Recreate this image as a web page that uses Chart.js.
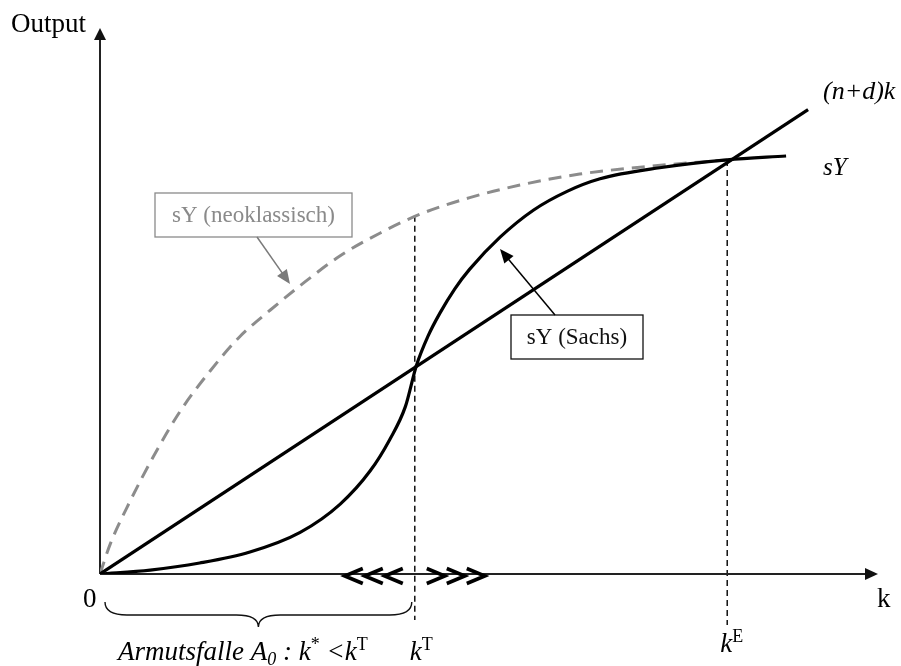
<!DOCTYPE html>
<html>
<head>
<meta charset="utf-8">
<script src="https://cdn.jsdelivr.net/npm/chart.js@4"></script>
<style>
  html, body { margin: 0; padding: 0; background: #fff; }
  #wrap { width: 901px; height: 666px; position: relative; }
</style>
</head>
<body>
<div id="wrap"><canvas id="chart"></canvas></div>
<script>
'use strict';

// ── Data (k on x, output on y) ─────────────────────────────────────────────

// (n+d)k – straight line
const LINE_K = [0, 9.02];
const LINE_Y = [0, 5.91];

// sY (Sachs) – S-shaped curve
const SACHS_K = [0, 0.64, 1.27, 1.91, 2.55, 3.06, 3.44, 3.69, 3.89, 4.03, 4.18, 4.33, 4.52, 4.71, 5.10, 5.52, 5.95, 6.37, 7.13, 7.99, 8.74];
const SACHS_Y = [0, 0.05, 0.14, 0.28, 0.53, 0.89, 1.31, 1.71, 2.13, 2.65, 3.03, 3.32, 3.63, 3.88, 4.29, 4.63, 4.87, 5.03, 5.17, 5.27, 5.32];

// sY (neoklassisch) – dashed concave curve
const NEO_K = [0, 0.13, 0.38, 0.70, 1.02, 1.40, 1.78, 2.17, 2.55, 3.06, 3.57, 4.08, 4.71, 5.35, 6.11, 7.01, 7.99];
const NEO_Y = [0, 0.38, 0.92, 1.53, 2.07, 2.58, 3.02, 3.36, 3.67, 4.05, 4.34, 4.58, 4.79, 4.95, 5.09, 5.19, 5.27];

// threshold / equilibrium capital
const K_T = 4.01, K_T_Y = 4.56;
const K_E = 7.99, K_E_Y = 5.27;

const SERIF = '"Liberation Serif", "Times New Roman", serif';

const pts = (xs, ys) => xs.map((x, i) => ({ x, y: ys[i] }));

// ── drawing helpers ─────────────────────────────────────────────────────────

function arrowHead(ctx, x, y, ang, len, half, color) {
  ctx.save();
  ctx.translate(x, y);
  ctx.rotate(ang);
  ctx.fillStyle = color;
  ctx.beginPath();
  ctx.moveTo(0, 0);
  ctx.lineTo(-len, -half);
  ctx.lineTo(-len, half);
  ctx.closePath();
  ctx.fill();
  ctx.restore();
}

function arrow(ctx, x1, y1, x2, y2, color, w) {
  const ang = Math.atan2(y2 - y1, x2 - x1);
  ctx.save();
  ctx.strokeStyle = color;
  ctx.lineWidth = w;
  ctx.beginPath();
  ctx.moveTo(x1, y1);
  ctx.lineTo(x2 - Math.cos(ang) * 10, y2 - Math.sin(ang) * 10);
  ctx.stroke();
  ctx.restore();
  arrowHead(ctx, x2, y2, ang, 14, 6, color);
}

// runs: [text, style] with style 'i' italic, 'r' roman, 'sup', 'isub'
function drawRuns(ctx, x, y, runs, size, color) {
  ctx.save();
  ctx.fillStyle = color || '#000';
  ctx.textBaseline = 'alphabetic';
  ctx.textAlign = 'left';
  runs.forEach(([t, st]) => {
    const small = st === 'sup' || st === 'isub';
    const s = small ? Math.round(size * 0.68) : size;
    const it = st === 'i' || st === 'isub';
    ctx.font = `${it ? 'italic ' : ''}${s}px ${SERIF}`;
    const dy = st === 'sup' ? -size * 0.36 : small ? size * 0.2 : 0;
    ctx.fillText(t, x, y + dy);
    x += ctx.measureText(t).width;
  });
  ctx.restore();
}

function labelBox(ctx, x1, y1, x2, y2, text, color) {
  ctx.save();
  ctx.fillStyle = '#fff';
  ctx.fillRect(x1, y1, x2 - x1, y2 - y1);
  ctx.strokeStyle = color;
  ctx.lineWidth = 1.3;
  ctx.strokeRect(x1, y1, x2 - x1, y2 - y1);
  ctx.fillStyle = color;
  ctx.font = `23px ${SERIF}`;
  ctx.textAlign = 'center';
  ctx.textBaseline = 'middle';
  ctx.fillText(text, (x1 + x2) / 2, (y1 + y2) / 2 + 1);
  ctx.restore();
}

function chevron(ctx, x, y, dir) {
  // dir -1 = '<', +1 = '>'
  ctx.beginPath();
  ctx.moveTo(x - dir * 9, y - 7.5);
  ctx.lineTo(x + dir * 9, y);
  ctx.lineTo(x - dir * 9, y + 7.5);
  ctx.stroke();
}

// ── annotation plugin ───────────────────────────────────────────────────────

const diagramPlugin = {
  id: 'diagram',
  beforeDatasetsDraw(chart) {
    const { ctx, scales: { x, y } } = chart;
    const ox = x.getPixelForValue(0), oy = y.getPixelForValue(0);

    // dashed guides at k^T and k^E
    ctx.save();
    ctx.strokeStyle = '#111';
    ctx.lineWidth = 1.5;
    ctx.setLineDash([6, 4]);
    [[K_T, K_T_Y, 46], [K_E, K_E_Y, 51]].forEach(([k, top, below]) => {
      const px = x.getPixelForValue(k);
      ctx.beginPath();
      ctx.moveTo(px, y.getPixelForValue(top));
      ctx.lineTo(px, oy + below);
      ctx.stroke();
    });
    ctx.restore();

    // axes
    ctx.save();
    ctx.strokeStyle = '#222';
    ctx.lineWidth = 2;
    ctx.beginPath();
    ctx.moveTo(ox, oy);
    ctx.lineTo(ox, 38);
    ctx.moveTo(ox, oy);
    ctx.lineTo(866, oy);
    ctx.stroke();
    ctx.restore();
    arrowHead(ctx, ox, 28, -Math.PI / 2, 12, 6, '#111');
    arrowHead(ctx, 878, oy, 0, 13, 6, '#111');
  },
  afterDraw(chart) {
    const { ctx, scales: { x, y } } = chart;
    const ox = x.getPixelForValue(0), oy = y.getPixelForValue(0);
    const kt = x.getPixelForValue(K_T), ke = x.getPixelForValue(K_E);

    // arrows towards k^T
    ctx.save();
    ctx.strokeStyle = '#000';
    ctx.lineWidth = 3.6;
    ctx.lineJoin = 'miter';
    [-61, -41, -21].forEach(d => chevron(ctx, kt + d, oy + 2, -1));
    [21, 41, 61].forEach(d => chevron(ctx, kt + d, oy + 2, 1));
    ctx.restore();

    // brace under the poverty trap
    const bx1 = ox + 5, bx2 = kt - 3, bm = (bx1 + bx2) / 2, by = oy + 28, bd = 13;
    ctx.save();
    ctx.strokeStyle = '#111';
    ctx.lineWidth = 1.4;
    ctx.beginPath();
    ctx.moveTo(bx1, by);
    ctx.quadraticCurveTo(bx1, by + bd, bx1 + 22, by + bd);
    ctx.lineTo(bm - 22, by + bd);
    ctx.quadraticCurveTo(bm, by + bd, bm, by + 2 * bd - 1);
    ctx.quadraticCurveTo(bm, by + bd, bm + 22, by + bd);
    ctx.lineTo(bx2 - 22, by + bd);
    ctx.quadraticCurveTo(bx2, by + bd, bx2, by);
    ctx.stroke();
    ctx.restore();

    // texts
    drawRuns(ctx, 11, 32, [['Output', 'r']], 27);
    drawRuns(ctx, ox - 17, oy + 33, [['0', 'r']], 27);
    drawRuns(ctx, 877, oy + 33, [['k', 'r']], 27);
    drawRuns(ctx, 823, 99, [['(n+d)k', 'i']], 26);
    drawRuns(ctx, 823, 175, [['sY', 'i']], 25);
    drawRuns(ctx, 118, 660, [['Armutsfalle A', 'i'], ['0', 'isub'], [' : k', 'i'], ['*', 'sup'], [' <k', 'i'], ['T', 'sup']], 27);
    drawRuns(ctx, kt - 5, 660, [['k', 'i'], ['T', 'sup']], 27);
    drawRuns(ctx, ke - 7, 652, [['k', 'i'], ['E', 'sup']], 27);

    // callout boxes
    labelBox(ctx, 155, 193, 352, 237, 'sY (neoklassisch)', '#8a8a8a');
    arrow(ctx, 257, 237, 290, 284, '#7a7a7a', 1.5);
    labelBox(ctx, 511, 315, 643, 359, 'sY (Sachs)', '#111');
    arrow(ctx, 555, 315, 500, 249, '#000', 1.5);
  },
};

// ── chart ───────────────────────────────────────────────────────────────────

new Chart(document.getElementById('chart'), {
  type: 'scatter',
  data: {
    datasets: [
      {
        label: '(n+d)k',
        data: pts(LINE_K, LINE_Y),
        showLine: true,
        borderColor: '#000',
        borderWidth: 3.2,
        pointRadius: 0,
        tension: 0,
      },
      {
        label: 'sY (Sachs)',
        data: pts(SACHS_K, SACHS_Y),
        showLine: true,
        borderColor: '#000',
        borderWidth: 3.2,
        pointRadius: 0,
        cubicInterpolationMode: 'monotone',
      },
      {
        label: 'sY (neoklassisch)',
        data: pts(NEO_K, NEO_Y),
        showLine: true,
        borderColor: '#8c8c8c',
        borderWidth: 3,
        borderDash: [13, 8],
        pointRadius: 0,
        cubicInterpolationMode: 'monotone',
      },
    ],
  },
  options: {
    responsive: true,
    maintainAspectRatio: false,
    animation: false,
    devicePixelRatio: 1,
    layout: { padding: { left: 100, right: 16, top: 24, bottom: 92 } },
    plugins: { legend: { display: false }, tooltip: { enabled: false }, title: { display: false } },
    scales: {
      x: { type: 'linear', min: 0, max: 10, display: false },
      y: { type: 'linear', min: 0, max: 7, display: false },
    },
  },
  plugins: [diagramPlugin],
});
</script>
</body>
</html>
